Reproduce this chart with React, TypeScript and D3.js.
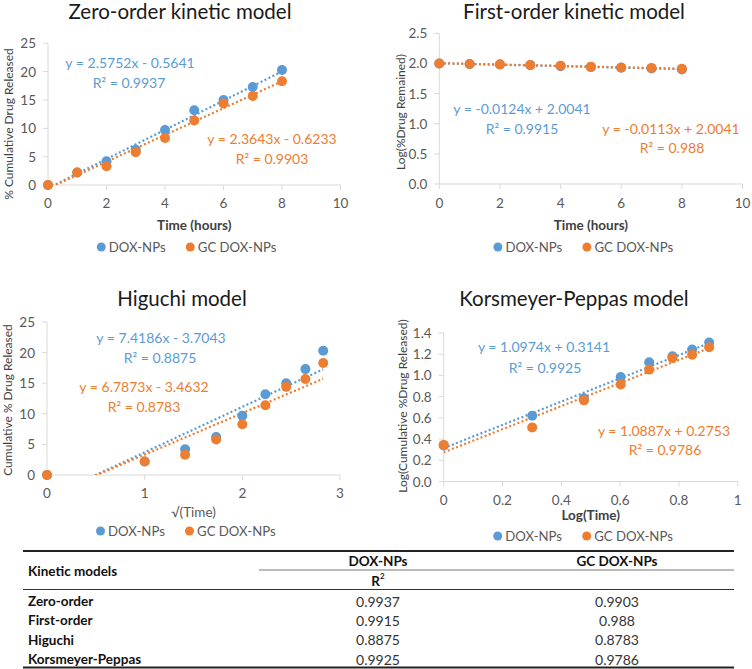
import React from "react";
import * as d3 from "d3";

const BLUE = "#5B9BD5";
const ORANGE = "#ED7D31";
const AXIS = "#d9d9d9";
const TICK_TEXT = "#595959";
const FONT = "Lato, 'Open Sans', sans-serif";
const TABLE_FONT = "Lato, sans-serif";

// release data
const hours = [0, 1, 2, 3, 4, 5, 6, 7, 8];
const doxCumRelease = [0, 2.2, 4.2, 6.2, 9.7, 13.2, 15.0, 17.3, 20.3];
const gcCumRelease = [0, 2.2, 3.3, 5.8, 8.3, 11.4, 14.4, 15.7, 18.3];
const doxLogRemained = [2.0, 1.99, 1.981, 1.972, 1.955, 1.939, 1.929, 1.917, 1.901];
const gcLogRemained = [2.0, 1.99, 1.985, 1.974, 1.962, 1.947, 1.932, 1.926, 1.912];
const sqrtTime = [0, 1, 1.414, 1.732, 2, 2.236, 2.449, 2.646, 2.828];
const logTime = [0, 0.301, 0.477, 0.602, 0.699, 0.778, 0.845, 0.903];
const doxLogRelease = [0.34, 0.62, 0.785, 0.985, 1.125, 1.18, 1.245, 1.31];
const gcLogRelease = [0.345, 0.51, 0.765, 0.915, 1.055, 1.165, 1.195, 1.265];

const seriesNames = ["DOX-NPs", "GC DOX-NPs"];

// trendlines: [slope, intercept]
const zeroFit = [[2.5752, -0.5641], [2.3643, -0.6233]];
const firstFit = [[-0.0124, 2.0041], [-0.0113, 2.0041]];
const higuchiFit = [[7.4186, -3.7043], [6.7873, -3.4632]];
const kpFit = [[1.0974, 0.3141], [1.0887, 0.2753]];

const zeroLabels = [["y = 2.5752x - 0.5641", "R² = 0.9937"], ["y = 2.3643x - 0.6233", "R² = 0.9903"]];
const firstLabels = [["y = -0.0124x + 2.0041", "R² = 0.9915"], ["y = -0.0113x + 2.0041", "R² = 0.988"]];
const higuchiLabels = [["y = 7.4186x - 3.7043", "R² = 0.8875"], ["y = 6.7873x - 3.4632", "R² = 0.8783"]];
const kpLabels = [["y = 1.0974x + 0.3141", "R² = 0.9925"], ["y = 1.0887x + 0.2753", "R² = 0.9786"]];

const tableModels = ["Zero-order", "First-order", "Higuchi", "Korsmeyer-Peppas"];
const tableDox = ["0.9937", "0.9915", "0.8875", "0.9925"];
const tableGc = ["0.9903", "0.988", "0.8783", "0.9786"];

const panels = [
  {
    id: "zero", title: "Zero-order kinetic model", titleX: 180, titleY: 19,
    x: hours, ys: [doxCumRelease, gcCumRelease], fits: zeroFit, labels: zeroLabels,
    xDomain: [0, 10], yDomain: [0, 25], xTicks: d3.range(0, 11, 2), yTicks: d3.range(0, 26, 5), yFmt: d3.format("d"),
    xRange: [48, 340.5], yRange: [185, 43.3],
    yTitle: "% Cumulative Drug Released", yTitleX: 8, yTitleY: 124,
    xTitle: "Time (hours)", xTitleBold: true, xTitleY: 225, legendY: 247, xLabelY: 203,
    labelPos: [[[130, 62], [129, 82]], [[272, 138], [272, 158]]],
  },
  {
    id: "first", title: "First-order kinetic model", titleX: 574, titleY: 19,
    x: hours, ys: [doxLogRemained, gcLogRemained], fits: firstFit, labels: firstLabels,
    xDomain: [0, 10], yDomain: [0, 2.5], xTicks: d3.range(0, 11, 2), yTicks: d3.range(0, 2.51, 0.5), yFmt: d3.format(".1f"),
    xRange: [439.3, 742.5], yRange: [184, 33.3],
    yTitle: "Log(%Drug Remained)", yTitleX: 400, yTitleY: 112,
    xTitle: "Time (hours)", xTitleBold: true, xTitleY: 225, legendY: 247, xLabelY: 203,
    labelPos: [[[522, 108], [522, 128]], [[671, 128], [672, 147]]],
  },
  {
    id: "higuchi", title: "Higuchi model", titleX: 182, titleY: 306,
    x: sqrtTime, ys: [doxCumRelease, gcCumRelease], fits: higuchiFit, labels: higuchiLabels,
    xDomain: [0, 3], yDomain: [0, 25], xTicks: d3.range(0, 4, 1), yTicks: d3.range(0, 26, 5), yFmt: d3.format("d"),
    xRange: [47, 340], yRange: [475, 322],
    yTitle: "Cumulative % Drug Released", yTitleX: 7, yTitleY: 400,
    xTitle: "√(Time)", xTitleBold: false, xTitleY: 512, legendY: 531, xLabelY: 493,
    labelPos: [[[161, 337], [160, 357]], [[144, 386], [144, 406]]],
  },
  {
    id: "kp", title: "Korsmeyer-Peppas model", titleX: 574, titleY: 306,
    x: logTime, ys: [doxLogRelease, gcLogRelease], fits: kpFit, labels: kpLabels,
    xDomain: [0, 1], yDomain: [0, 1.4], xTicks: d3.range(0, 1.01, 0.2), yTicks: d3.range(0, 1.41, 0.2), yFmt: d3.format(".1f"),
    xRange: [443.7, 737.7], yRange: [481.5, 333],
    yTitle: "Log(Cumulative %Drug Released)", yTitleX: 402, yTitleY: 406,
    xTitle: "Log(Time)", xTitleBold: true, xTitleY: 515, legendY: 536, xLabelY: 500,
    labelPos: [[[544, 346], [545, 367]], [[664, 430], [665, 449]]],
  },
];

const colors = [BLUE, ORANGE];

function Panel({ p }: { p: any }) {
  const x = d3.scaleLinear().domain(p.xDomain).range(p.xRange);
  const y = d3.scaleLinear().domain(p.yDomain).range(p.yRange);
  const [x0, x1] = p.xRange;
  const [yb, yt] = p.yRange;
  const cx = (x0 + x1) / 2;
  const xExtent = d3.extent(p.x as number[]) as [number, number];

  return (
    <g>
      <defs>
        <clipPath id={"clip-" + p.id}>
          <rect x={x0} y={yt} width={x1 - x0} height={yb - yt} />
        </clipPath>
      </defs>
      <text x={p.titleX} y={p.titleY} textAnchor="middle" fontSize={20.5} fill="#1a1a1a">
        {p.title}
      </text>

      {/* axes */}
      <line x1={x0} x2={x0} y1={yb} y2={yt} stroke={AXIS} />
      <line x1={x0} x2={x1} y1={yb} y2={yb} stroke={AXIS} />
      {p.yTicks.map((t: number) => (
        <g key={"y" + t}>
          <line x1={x0 - 5} x2={x0} y1={y(t)} y2={y(t)} stroke={AXIS} />
          <text x={x0 - 12} y={y(t)} textAnchor="end" dominantBaseline="central" fontSize={13.5} fill={TICK_TEXT}>
            {p.yFmt(t)}
          </text>
        </g>
      ))}
      {p.xTicks.map((t: number) => (
        <g key={"x" + t}>
          <line x1={x(t)} x2={x(t)} y1={yb} y2={yb + 5} stroke={AXIS} />
          <text x={x(t)} y={p.xLabelY} textAnchor="middle" dominantBaseline="central" fontSize={13.5} fill={TICK_TEXT}>
            {String(+t.toFixed(1))}
          </text>
        </g>
      ))}

      {/* trendlines */}
      <g clipPath={`url(#clip-${p.id})`}>
        {p.fits.map(([m, b]: number[], i: number) => (
          <line
            key={"fit" + i}
            x1={x(xExtent[0])}
            y1={y(m * xExtent[0] + b)}
            x2={x(xExtent[1])}
            y2={y(m * xExtent[1] + b)}
            stroke={colors[i]}
            strokeWidth={2.2}
            strokeDasharray="2 2.4"
          />
        ))}
      </g>

      {/* markers */}
      {p.ys.map((ys: number[], s: number) => (
        <g key={"s" + s}>
          {ys.map((v, i) => (
            <circle key={i} cx={x(p.x[i])} cy={y(v)} r={5} fill={colors[s]} />
          ))}
        </g>
      ))}

      {/* equation labels */}
      {p.labels.map((lbl: string[], s: number) =>
        lbl.map((txt, k) => (
          <text
            key={s + "-" + k}
            x={p.labelPos[s][k][0]}
            y={p.labelPos[s][k][1]}
            textAnchor="middle"
            dominantBaseline="central"
            fontSize={14}
            fill={colors[s]}
          >
            {txt}
          </text>
        ))
      )}

      {/* axis titles */}
      <text
        transform={`translate(${p.yTitleX},${p.yTitleY}) rotate(-90)`}
        textAnchor="middle"
        dominantBaseline="central"
        fontSize={12}
        fill="#404040"
      >
        {p.yTitle}
      </text>
      <text
        x={cx}
        y={p.xTitleY}
        textAnchor="middle"
        dominantBaseline="central"
        fontSize={13.5}
        fontWeight={p.xTitleBold ? "bold" : "normal"}
        fill={p.xTitleBold ? "#404040" : TICK_TEXT}
      >
        {p.xTitle}
      </text>

      {/* legend */}
      {seriesNames.map((name, s) => {
        const dx = s === 0 ? cx - 93 : cx - 4;
        return (
          <g key={name}>
            <circle cx={dx} cy={p.legendY} r={4.5} fill={colors[s]} />
            <text x={dx + 7.5} y={p.legendY} dominantBaseline="central" fontSize={13.2} fill={TICK_TEXT}>
              {name}
            </text>
          </g>
        );
      })}
    </g>
  );
}

function KineticTable() {
  const left = 23;
  const right = 734;
  const colDox = 378;
  const colGc = 617;
  const rowY = d3.scalePoint<string>().domain(tableModels).range([601, 659]);
  return (
    <g fontFamily={TABLE_FONT} fontSize={13.5}>
      <line x1={left} x2={right} y1={551} y2={551} stroke="#222" strokeWidth={2} />
      <text x={28} y={571} dominantBaseline="central" fontWeight="bold" fill="#111">
        Kinetic models
      </text>
      <text x={colDox} y={561} textAnchor="middle" dominantBaseline="central" fontWeight="bold" fill="#111">
        {seriesNames[0]}
      </text>
      <text x={colGc} y={561} textAnchor="middle" dominantBaseline="central" fontWeight="bold" fill="#111">
        {seriesNames[1]}
      </text>
      <line x1={259} x2={right} y1={570} y2={570} stroke="#777" strokeWidth={1} />
      <text x={colDox} y={581} textAnchor="middle" dominantBaseline="central" fontWeight="bold" fill="#111">
        R<tspan fontSize={8} dy={-5}>2</tspan>
      </text>
      <line x1={left} x2={right} y1={589.5} y2={589.5} stroke="#333" strokeWidth={1} />
      {tableModels.map((m, i) => (
        <g key={m}>
          <text x={28} y={rowY(m)} dominantBaseline="central" fontWeight="bold" fill="#111">
            {m}
          </text>
          <text x={colDox} y={rowY(m)} textAnchor="middle" dominantBaseline="central" fill="#333" fontSize={14}>
            {tableDox[i]}
          </text>
          <text x={colGc} y={rowY(m)} textAnchor="middle" dominantBaseline="central" fill="#333" fontSize={14}>
            {tableGc[i]}
          </text>
        </g>
      ))}
      <line x1={left} x2={right} y1={667.5} y2={667.5} stroke="#222" strokeWidth={2} />
    </g>
  );
}

export default function App() {
  return (
    <svg
      width={752}
      height={669}
      style={{ position: "absolute", left: 0, top: 0, background: "#fff" }}
      fontFamily={FONT}
    >
      <rect width={752} height={669} fill="#fff" />
      {panels.map((p) => (
        <Panel key={p.id} p={p} />
      ))}
      <KineticTable />
    </svg>
  );
}
